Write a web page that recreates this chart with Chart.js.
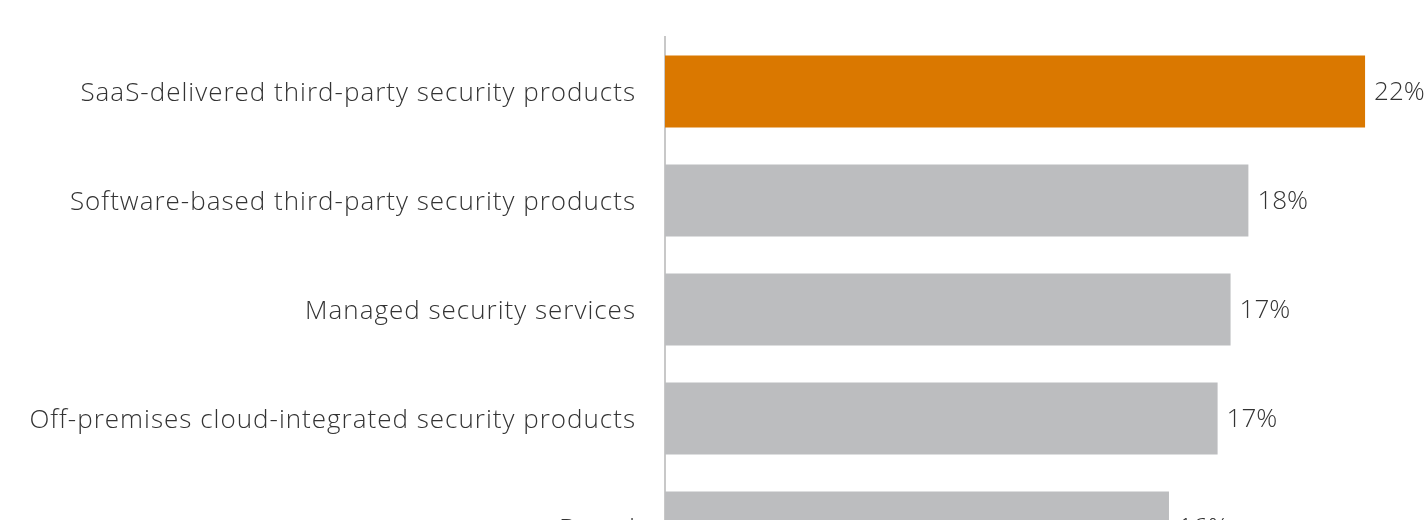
<!DOCTYPE html>
<html>
<head>
<meta charset="utf-8">
<script src="https://cdn.jsdelivr.net/npm/chart.js@4"></script>
<style>
  html, body { margin: 0; padding: 0; background: #fff; overflow: hidden; }
  #wrap { width: 1426px; height: 520px; overflow: hidden; }
</style>
</head>
<body>
<div id="wrap"><canvas id="chart" width="1426" height="600"></canvas></div>
<script>
// categories, top to bottom (the last one is cut off by the frame)
var categories = [
    'SaaS-delivered third-party security products',
    'Software-based third-party security products',
    'Managed security services',
    'Off-premises cloud-integrated security products',
    'Based'
];
// share of respondents, %
var shares = [21.6, 18.0, 17.45, 17.05, 15.55];
var barColors = ['#DA7800', '#BCBDBF', '#BCBDBF', '#BCBDBF', '#BCBDBF'];

var FONT = "'Open Sans', 'Roboto', sans-serif";

// slightly wider tracking for the category names
var tracking = {
    id: 'tracking',
    beforeDraw: function(chart) { chart.ctx.letterSpacing = '1px'; },
    afterDraw: function(chart) { chart.ctx.letterSpacing = '0px'; }
};

// write the rounded % just right of every bar
var valueLabels = {
    id: 'valueLabels',
    afterDatasetsDraw: function(chart) {
        var ctx = chart.ctx;
        var meta = chart.getDatasetMeta(0);
        ctx.save();
        ctx.letterSpacing = '0px';
        ctx.font = '300 26px ' + FONT;
        ctx.fillStyle = '#333333';
        ctx.textAlign = 'left';
        ctx.textBaseline = 'middle';
        meta.data.forEach(function(bar, i) {
            ctx.fillText(Math.round(shares[i]) + '%', bar.x + 9, bar.y + 1);
        });
        ctx.restore();
    }
};

var ctx = document.getElementById('chart').getContext('2d');
var myChart = new Chart(ctx, {
    type: 'bar',
    data: {
        labels: categories,
        datasets: [{
            data: shares,
            backgroundColor: barColors,
            borderWidth: 0,
            categoryPercentage: 1,
            barPercentage: 0.66
        }]
    },
    options: {
        responsive: false,
        animation: false,
        indexAxis: 'y',
        layout: { padding: { top: 37, bottom: 18, left: 0, right: 0 } },
        scales: {
            x: {
                display: false,
                min: 0,
                max: 23.48
            },
            y: {
                afterFit: function(scale) {
                    scale.width = 665;
                    scale.paddingTop = 0;
                    scale.paddingBottom = 0;
                },
                grid: { drawOnChartArea: false, drawTicks: false },
                border: { display: true, color: '#C8C8C8', width: 2 },
                ticks: {
                    padding: 29,
                    labelOffset: 2,
                    color: '#333333',
                    font: { family: FONT, size: 26, weight: 300 }
                }
            }
        },
        plugins: {
            legend: { display: false },
            tooltip: { enabled: false }
        }
    },
    plugins: [tracking, valueLabels]
});
</script>
</body>
</html>
